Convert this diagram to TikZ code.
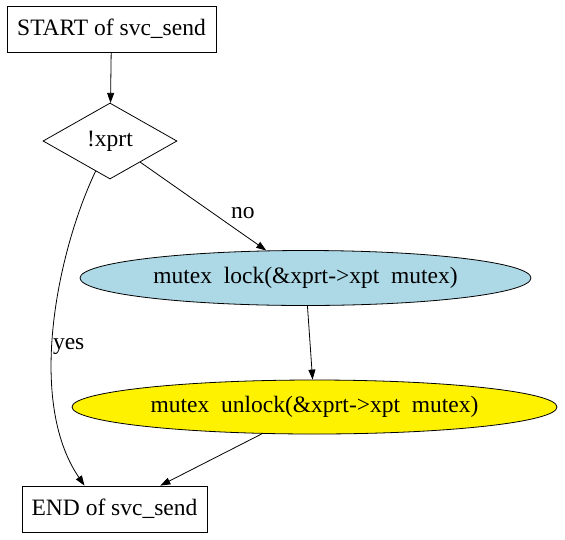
\documentclass[tikz,border=0pt]{standalone}
\usepackage{fontspec}
\setmainfont{Liberation Serif}
\usetikzlibrary{arrows.meta, shapes.geometric}
\definecolor{lightblue}{RGB}{173,216,230}

\begin{document}
\begin{tikzpicture}[
    x=1pt, y=1pt, >={Triangle[length=10pt, width=7pt]},
    every node/.style={font=\fontsize{23.5pt}{26pt}\selectfont},
    every path/.style={line width=0.8pt}
  ]
  \useasboundingbox (0,0) rectangle (565,-539);
  \node[draw, minimum width=209pt, minimum height=46pt,
        inner sep=0pt] (start) at (111.5,-29) {START of svc\_send};
  \node[draw, diamond, aspect=1.76, minimum width=134pt,
        minimum height=76pt, inner sep=0pt] (cond) at (110,-141) {!xprt};
  \node[draw, ellipse, fill=lightblue, minimum width=451pt,
        minimum height=55pt, inner sep=0pt]
        (lock) at (305.5,-278) {mutex\ \ lock(\&xprt->xpt\ \ mutex)};
  \node[draw, ellipse, fill=yellow, minimum width=485pt,
        minimum height=54pt, inner sep=0pt]
        (unlock) at (314.5,-407) {mutex\ \ unlock(\&xprt->xpt\ \ mutex)};
  \node[draw, minimum width=185pt, minimum height=46pt,
        inner sep=0pt] (end) at (114.5,-509) {END of svc\_send};
  \draw[->] (start) -- (cond);
  \draw[->] (cond) -- node[pos=0.66, above right=-2pt, xshift=6pt] {no} (lock);
  \draw[->] (cond) .. controls (58,-250) and (26,-400)
    .. node[pos=0.56, anchor=west, inner sep=0pt] {yes} ([xshift=-30pt]end.north);
  \draw[->] (lock) -- (unlock);
  \draw[->] (unlock) -- (end);
\end{tikzpicture}
\end{document}
